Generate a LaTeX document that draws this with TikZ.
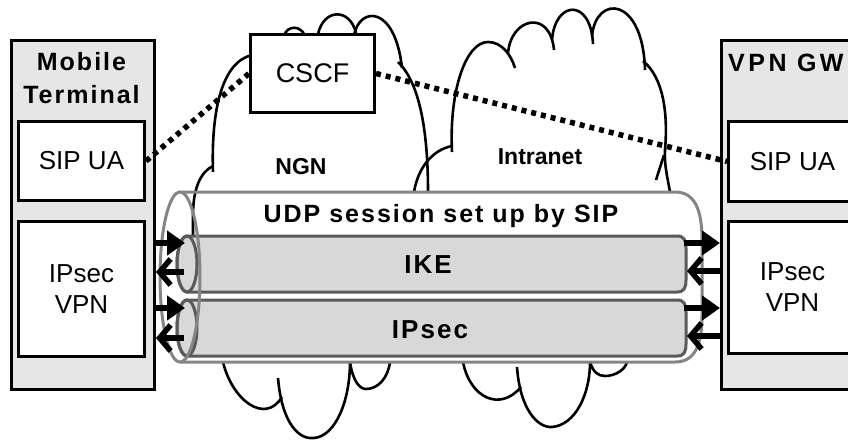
\documentclass[tikz,border=0pt]{standalone}
\usepackage{fontspec}
\setmainfont{Liberation Sans}
\newfontfamily\spaced[LetterSpace=8]{Liberation Sans}
\usetikzlibrary{arrows.meta}
\definecolor{boxgray}{HTML}{E6E6E6}
\definecolor{tubefill}{HTML}{D8D8D8}
\definecolor{tubeedge}{HTML}{5A5A5A}
\definecolor{udpedge}{HTML}{858585}
\begin{document}
\begin{tikzpicture}[x=1pt,y=-1pt,
  outerbox/.style={draw=black, line width=3pt, fill=boxgray, inner sep=0pt, anchor=north west},
  innerbox/.style={draw=black, line width=3pt, fill=white, inner sep=0pt, anchor=north west,
    align=center, font=\fontsize{26}{31}\selectfont},
  title/.style={align=center, font=\spaced\bfseries\fontsize{25}{33}\selectfont, inner sep=0pt},
  cloudlabel/.style={font=\bfseries\fontsize{23}{26}\selectfont, inner sep=0pt},
  cloud/.style={draw=black, line width=2.6pt},
  tube/.style={draw=tubeedge, line width=3pt, fill=tubefill},
  udp/.style={draw=udpedge, line width=3pt},
  tubetext/.style={font=\spaced\bfseries\fontsize{26}{30}\selectfont, inner sep=0pt},
  sig/.style={line width=5.5pt, dash pattern=on 5pt off 5pt},
  arR/.style={line width=5.5pt, -{Triangle[length=18pt 0 0,width=24pt 0 0]}},
  arL/.style={line width=5.5pt, -{Straight Barb[length=11pt 0 0,width=26pt 0 0]}}
]
\useasboundingbox (0,0) rectangle (848,439);
\clip (0,0) rectangle (848,439);
\fill[white] (0,0) rectangle (848,439);

% outer boxes
\node[outerbox, minimum width=143pt, minimum height=349pt] (mt) at (10,39) {};
\node[outerbox, minimum width=143pt, minimum height=349pt] (gw) at (720,39) {};
\node[title] (mttitle) at (81.5,78) {Mobile\\Terminal};
\node[title, anchor=base west] (gwtitle) at (728,71) {\addfontfeature{LetterSpace=14}VPN GW};

% inner boxes
\node[innerbox, minimum width=126pt, minimum height=79pt] (sipL) at (17,120) {SIP UA};
\node[innerbox, minimum width=126pt, minimum height=135pt] (vpnL) at (17,220) {IPsec\\VPN};
\node[innerbox, minimum width=128pt, minimum height=80pt] (sipR) at (727,120) {SIP UA};
\node[innerbox, minimum width=128pt, minimum height=132pt] (vpnR) at (727,220) {IPsec\\VPN};

% NGN cloud
\draw[cloud] (193,236) -- (193,215) .. controls (193,190) and (200,172) .. (213,166);
\draw[cloud] (213,172) .. controls (211,110) and (222,62) .. (252,55);
\draw[cloud] (284,36) .. controls (287,25) and (301,25) .. (305,36);
\draw[cloud] (318,34) .. controls (324,8) and (350,8) .. (356,33);
\draw[cloud] (354,35) .. controls (360,6) and (395,5) .. (402,68);
\draw[cloud] (398,62) .. controls (422,85) and (428,140) .. (428,192);
\draw[cloud] (223,362) .. controls (232,400) and (265,425) .. (282,397);
\draw[cloud] (278,378) .. controls (282,425) and (300,440) .. (314,438) .. controls (336,436) and (350,400) .. (350,362);
\draw[cloud] (350,362) .. controls (353,382) and (360,389) .. (366,389) .. controls (378,389) and (388,378) .. (390,362);

% Intranet cloud
\draw[cloud] (414,192) .. controls (418,168) and (432,150) .. (452,146);
\draw[cloud] (452,152) .. controls (449,90) and (466,42) .. (488,42) .. controls (502,42) and (511,55) .. (515,68);
\draw[cloud] (508,54) .. controls (510,18) and (550,8) .. (554,50);
\draw[cloud] (552,40) .. controls (555,0) and (591,-2) .. (593,44);
\draw[cloud] (592,36) .. controls (596,-6) and (643,-4) .. (645,70);
\draw[cloud] (643,61) .. controls (664,78) and (668,115) .. (665,150) .. controls (664,165) and (668,180) .. (670,192);
\draw[cloud] (656,180) -- (664,155);
\draw[cloud] (463,362) .. controls (470,398) and (500,412) .. (521,387);
\draw[cloud] (517,367) .. controls (520,410) and (538,428) .. (552,427) .. controls (575,425) and (590,395) .. (590,362);
\draw[cloud] (590,362) .. controls (593,372) and (598,376) .. (605,376) .. controls (615,376) and (625,370) .. (627,362);

\node[cloudlabel] (ngn) at (301,167) {NGN};
\node[cloudlabel] (intranet) at (540,157) {Intranet};

% CSCF
\node[draw=black, line width=3pt, fill=white, inner sep=0pt, anchor=north west,
  minimum width=124pt, minimum height=78pt, font=\fontsize{27}{30}\selectfont] (cscf) at (249,33) {CSCF};

% signalling
\draw[sig] (sipL.east) -- (cscf.west);
\draw[sig] (cscf.east) -- (sipR.west);

% inner tubes
\path[tube] (187,236) -- (677,236) .. controls (684,236) and (686,240) .. (686,248) -- (686,280)
  .. controls (686,288) and (684,292) .. (677,292) -- (187,292)
  arc[start angle=90, end angle=270, x radius=10, y radius=28] -- cycle;
\draw[tube, fill=none] (187,264) ellipse[x radius=10, y radius=28];
\path[tube] (187,300) -- (677,300) .. controls (684,300) and (686,304) .. (686,312) -- (686,344)
  .. controls (686,352) and (684,356) .. (677,356) -- (187,356)
  arc[start angle=90, end angle=270, x radius=10, y radius=28] -- cycle;
\draw[tube, fill=none] (187,328) ellipse[x radius=10, y radius=28];
\node[tubetext] (ike) at (428,265) {IKE};
\node[tubetext] (ipsec) at (430,330) {IPsec};

% UDP tube
\draw[udp] (180,192) -- (675,192) .. controls (695,192) and (702,210) .. (702,240) -- (702,315)
  .. controls (702,345) and (695,362) .. (675,362) -- (180,362);
\draw[udp] (180,277) ellipse[x radius=20, y radius=85];
\node[font=\spaced\bfseries\fontsize{25}{30}\selectfont, inner sep=0pt] (udptext) at (441,216) {UDP session set up by SIP};

% arrows
\coordinate (a1) at (185,243);
\coordinate (a2) at (184,272);
\coordinate (a3) at (185,308);
\coordinate (a4) at (184,338);
\draw[arR] (mt.east |- a1) -- (a1);
\draw[arL] (a2) -- (mt.east |- a2);
\draw[arR] (mt.east |- a3) -- (a3);
\draw[arL] (a4) -- (mt.east |- a4);
\coordinate (b1) at (684,243);
\coordinate (b2) at (687,271);
\coordinate (b3) at (684,308);
\coordinate (b4) at (687,336);
\draw[arR] (b1) -- (gw.west |- b1);
\draw[arL] (gw.west |- b2) -- (b2);
\draw[arR] (b3) -- (gw.west |- b3);
\draw[arL] (gw.west |- b4) -- (b4);
\end{tikzpicture}
\end{document}
